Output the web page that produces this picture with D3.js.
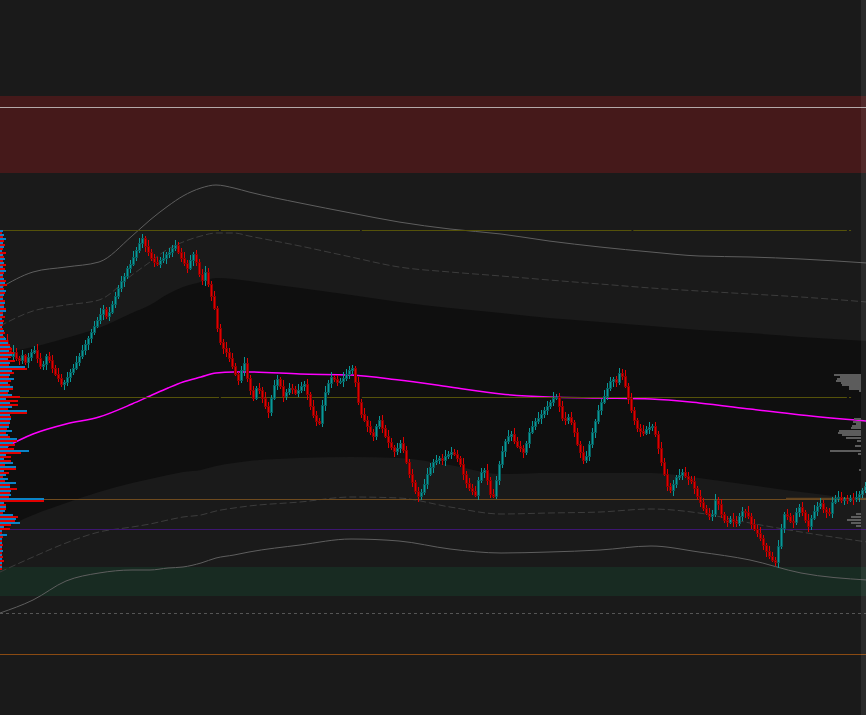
<!DOCTYPE html>
<html>
<head>
<meta charset="utf-8">
<script src="https://cdn.jsdelivr.net/npm/d3@7"></script>
<style>
    html, body { margin: 0; padding: 0; background: #1a1a1a; overflow: hidden; }
</style>
</head>
<body>
<div id="chart"></div>
<script>
// price bars, one every bar index, price units
var firstOpen = 660;
var closes = [
    655,660,650,644,648,642,640,645,638,643,
    648,650,642,634,636,644,640,632,626,622,
    616,618,623,628,632,638,644,650,656,662,
    668,674,680,686,691,684,688,696,704,712,
    719,724,732,736,743,750,757,762,754,748,
    742,738,736,740,742,746,748,752,755,748,
    742,737,732,740,746,738,726,720,728,716,
    704,692,672,658,652,648,642,634,626,620,
    630,637,622,610,602,612,610,602,594,588,
    602,615,621,614,604,608,612,611,607,610,
    614,616,606,594,585,579,577,595,608,617,
    623,621,618,619,622,626,630,632,618,598,
    586,580,574,568,564,574,580,572,564,558,
    553,549,552,557,550,538,526,518,509,504,
    508,516,526,533,538,540,542,540,544,546,
    548,546,542,536,526,517,512,509,505,520,
    528,530,520,506,504,520,536,549,559,564,
    566,559,554,552,548,557,568,574,579,582,
    586,590,594,598,602,603,594,582,580,583,
    578,568,556,548,540,544,556,568,579,590,
    598,604,612,619,621,618,627,624,614,602,
    590,580,572,569,567,571,573,574,566,552,
    538,526,514,510,516,523,525,528,524,521,
    519,512,504,498,492,487,484,486,500,496,
    486,480,478,481,479,477,484,489,488,484,
    476,471,467,462,455,449,444,440,438,454,
    472,486,484,479,478,488,493,488,480,474,
    482,489,494,497,491,488,487,498,502,503,
    500,501,500,502,501,503,506,510,514
];
// wick lengths above / below the body
var wickUp = "4363742514 3465324536 4253463542 3536425343 5324635426 3453624353 4635243564 3524364532 4653425364 3542635436 4352643563 5243654325 3645324536 4253643524 3564352463 5342635453 4263543526 3645324536 4352634563 5243653425 3654235463 5324635243 6453426354 3526435463 5243653426 3546325436 4253643526 3645324536 524356324";
var wickDn = "3542635436 4253463524 3645324356 5324635243 4635243564 3524364532 4352643563 5243654325 3645324536 4253643524 3564352463 5342635453 4263543526 3645324536 4352634563 5243653425 3654235463 5324635243 6453426354 3526435463 5243653426 3546325436 4253643526 3645324536 4352643563 5243563246 3542635436 4253463524 354263543";

// vwap + bands, sampled at these bar indices
var curveIdx   = [0, 11, 22, 33, 44, 50, 56, 61, 67, 72, 78, 83, 100, 117, 133, 150, 167, 183, 200, 217, 233, 250, 267, 289];
var upperOuter = [712,728,733,738,764,780,794,804,812,815,812,808,797,787,778,771,766,759,753,748,744,743,741,737];
var upperMid   = [674,689,695,700,725,738,751,758,764,767,767,764,754,743,733,728,724,720,716,712,709,706,703,698];
var darkTop    = [647,653,662,672,687,695,706,713,718,722,721,719,712,705,698,692,687,682,678,674,670,667,663,659];
var darkBot    = [470,485,497,508,517,521,525,528,530,534,537,539,542,543,542,535,526,527,527,527,522,515,508,500];
var lowerMid   = [428,443,457,468,473,476,480,483,485,489,492,494,498,503,502,493,486,487,488,491,487,477,468,458];
var lowerOuter = [387,400,419,427,430,430,432,433,437,442,445,448,455,461,459,451,447,448,450,454,448,440,427,420];
var vwap       = [550,566,576,583,596,604,612,618,623,627,628,628,626,625,620,613,606,603,602,601,597,591,585,579];

// zones and levels
var supplyZone = [904, 827];
var supplyLine = 893;
var demandZone = [433, 404];
var oliveLevels = [770, 603];
var sessionBreaks = [73, 120, 210.5];
var oliveEnd = 282.3;
var pocLevel = 501;
var vahLevel = 471;
var dashedLevel = 387;
var orangeLevel = 346;
var sessionPoc = 502;
var sessionPocStart = 262;

// left volume profile
var profLevels = [
    770,766,762,758,754,750,746,742,738,734,
    730,726,722,718,714,710,706,702,698,694,
    690,686,682,678,674,670,666,662,658,654,
    650,646,642,638,634,630,626,622,618,614,
    610,606,602,598,594,590,586,582,578,574,
    570,566,562,558,554,550,546,542,538,534,
    530,526,522,518,514,510,506,502,498,494,
    490,486,482,478,474,470,466,462,458,454,
    450,446,442,438,434
];
var profBuy = [
    3,4,6,3,4,2,3,5,4,3,
    6,3,4,5,3,6,4,3,5,4,
    6,3,2,3,2,4,3,6,8,10,
    9,12,8,10,25,12,10,14,8,13,
    9,12,6,10,12,27,10,11,10,9,
    12,8,17,13,8,29,6,4,13,16,
    4,6,8,16,10,11,11,44,4,6,
    5,13,16,20,4,2,7,2,2,2,
    3,2,2,2,2
];
var profSell = [
    2,3,4,5,3,6,4,3,6,5,
    4,3,6,7,4,5,3,5,4,6,
    3,5,4,3,3,5,4,8,10,12,
    14,10,15,9,27,14,9,11,10,13,
    8,20,18,18,8,27,11,10,9,7,
    6,10,17,15,14,21,11,11,5,16,
    9,3,5,10,17,10,9,44,6,6,
    3,18,15,11,10,2,3,2,3,2,
    2,3,4,2,2
];

// right (session) profile
var rightLevels = [626,624,622,620,618,616,614,612,610,582,579,577,575,573,570,568,566,563,560,555,550,547,531,487,484,481,478,475];
var rightVol    = [27,21,24,25,20,19,12,12,2,7,8,5,9,10,22,23,19,15,4,6,31,3,2,5,10,14,10,5];

var width = 866, height = 715;
var n = closes.length;

var svg = d3.select('#chart').append('svg')
    .attr('width', width)
    .attr('height', height)
    .style('display', 'block')
    .style('background', '#1a1a1a');

var x = d3.scaleLinear().domain([0, n]).range([0, n * 3]);
var y = d3.scaleLinear().domain([1000, 285]).range([0, 715]);
var vol = d3.scaleLinear().domain([0, 50]).range([0, 50]);

// zones
svg.append('rect')
    .attr('x', 0).attr('width', width)
    .attr('y', y(supplyZone[0])).attr('height', y(supplyZone[1]) - y(supplyZone[0]))
    .style('fill', '#45191a');
svg.append('line')
    .attr('x1', 0).attr('x2', width)
    .attr('y1', y(supplyLine) + 0.5).attr('y2', y(supplyLine) + 0.5)
    .style('stroke', '#b4a9a9').style('stroke-width', 1);
svg.append('rect')
    .attr('x', 0).attr('width', width)
    .attr('y', y(demandZone[0])).attr('height', y(demandZone[1]) - y(demandZone[0]))
    .style('fill', '#182b22');

// dark inner band
var band = d3.area()
    .x(function (d, i) { return x(curveIdx[i]); })
    .y0(function (d, i) { return y(darkBot[i]); })
    .y1(function (d) { return y(d); })
    .curve(d3.curveMonotoneX);
svg.append('path').datum(darkTop).attr('d', band).style('fill', '#0f0f0f');

function bandLine(vals) {
    return d3.line()
        .x(function (d, i) { return x(curveIdx[i]); })
        .y(function (d) { return y(d); })
        .curve(d3.curveMonotoneX)(vals);
}
svg.append('path').attr('d', bandLine(upperOuter)).style('fill', 'none').style('stroke', '#5e5e5e').style('stroke-width', 1);
svg.append('path').attr('d', bandLine(lowerOuter)).style('fill', 'none').style('stroke', '#5e5e5e').style('stroke-width', 1);
svg.append('path').attr('d', bandLine(upperMid)).style('fill', 'none').style('stroke', '#3c3c3c').style('stroke-width', 1).style('stroke-dasharray', '7,3');
svg.append('path').attr('d', bandLine(lowerMid)).style('fill', 'none').style('stroke', '#3c3c3c').style('stroke-width', 1).style('stroke-dasharray', '7,3');

// vwap
svg.append('path').attr('d', bandLine(vwap)).style('fill', 'none').style('stroke', '#ff00ff').style('stroke-width', 1.5);

// horizontal levels
function hline(level, x1, x2, color, dash, w) {
    svg.append('line')
        .attr('x1', x1).attr('x2', x2)
        .attr('y1', Math.round(y(level)) + 0.5).attr('y2', Math.round(y(level)) + 0.5)
        .style('stroke', color)
        .style('stroke-width', w || 1)
        .style('stroke-dasharray', dash || null);
}
oliveLevels.forEach(function (lv) {
    var starts = [0].concat(sessionBreaks.map(function (b) { return b + 0.6; }));
    var ends = sessionBreaks.concat([oliveEnd]);
    starts.forEach(function (s, k) { hline(lv, x(s), x(ends[k]), '#55520a'); });
    hline(lv, x(oliveEnd + 0.7), x(oliveEnd + 1.4), '#55520a');
});
hline(pocLevel, 0, width, '#6e4a1e');
hline(sessionPoc, x(sessionPocStart), width, '#5e4220', null, 1.5);
hline(vahLevel, 0, width, '#3d1670');
hline(dashedLevel, 0, width, '#555555', '3,3');
hline(orangeLevel, 0, width, '#8a4a12');

// candles
var up = wickUp.replace(/ /g, '').split('').map(Number);
var dn = wickDn.replace(/ /g, '').split('').map(Number);
var candles = closes.map(function (c, i) {
    var o = i === 0 ? firstOpen : closes[i - 1];
    return {i: i, o: o, c: c, h: Math.max(o, c) + up[i], l: Math.min(o, c) - dn[i]};
});
var bull = '#0a9898', bear = '#e00000';
var bullEdge = '#065e5e', bearEdge = '#8c0000';
var cg = svg.append('g');
cg.selectAll('.wick')
    .data(candles)
    .enter().append('rect')
    .attr('class', 'wick')
    .attr('x', function (d) { return x(d.i) + 1; })
    .attr('width', 1)
    .attr('y', function (d) { return Math.round(y(d.h)); })
    .attr('height', function (d) { return Math.round(y(d.l) - y(d.h)); })
    .style('fill', function (d) { return d.c >= d.o ? bull : bear; });
cg.selectAll('.body')
    .data(candles)
    .enter().append('rect')
    .attr('class', 'body')
    .attr('x', function (d) { return x(d.i) + 0.5; })
    .attr('width', 2)
    .attr('y', function (d) { return Math.round(y(Math.max(d.o, d.c))) + 0.5; })
    .attr('height', function (d) { return Math.max(1, Math.round(Math.abs(y(d.o) - y(d.c)))); })
    .style('fill', function (d) { return d.c >= d.o ? bull : bear; })
    .style('stroke', function (d) { return d.c >= d.o ? bullEdge : bearEdge; })
    .style('stroke-width', 1);

// left profile
var pg = svg.append('g').attr('shape-rendering', 'crispEdges');
pg.selectAll('.buy')
    .data(profLevels)
    .enter().append('rect')
    .attr('x', 0)
    .attr('y', function (d) { return y(d); })
    .attr('height', 2)
    .attr('width', function (d, i) { return vol(profBuy[i]); })
    .style('fill', '#0a84c8');
pg.selectAll('.sell')
    .data(profLevels)
    .enter().append('rect')
    .attr('x', 0)
    .attr('y', function (d) { return y(d) + 2; })
    .attr('height', 2)
    .attr('width', function (d, i) { return vol(profSell[i]); })
    .style('fill', '#e00000');

// right profile
var rightEdge = 861;
pg.selectAll('.rp')
    .data(rightLevels)
    .enter().append('rect')
    .attr('x', function (d, i) { return rightEdge - vol(rightVol[i]); })
    .attr('y', function (d) { return y(d); })
    .attr('height', 2)
    .attr('width', function (d, i) { return vol(rightVol[i]); })
    .style('fill', '#5c5c5c');

// price scale strip
svg.append('rect')
    .attr('x', rightEdge).attr('y', 0)
    .attr('width', width - rightEdge).attr('height', height)
    .style('fill', 'rgba(255,255,255,0.07)');
</script>
</body>
</html>
